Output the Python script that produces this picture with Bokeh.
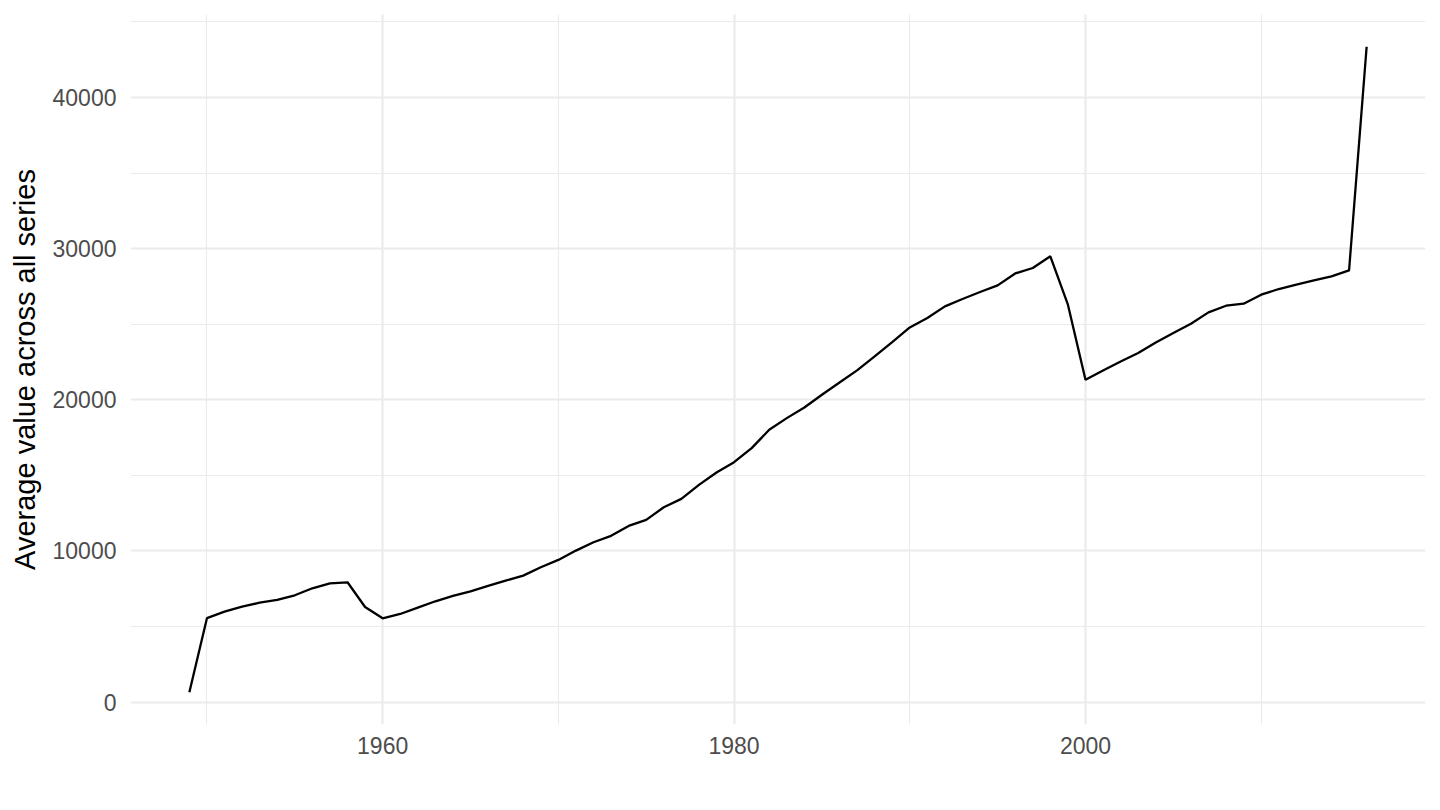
from bokeh.plotting import figure
from bokeh.models import FixedTicker, Range1d
from bokeh.embed import file_html
from bokeh.resources import INLINE

years = list(range(1949, 2017))
avg_value = [
    650, 5550, 5980, 6310, 6576, 6755, 7064, 7528, 7859, 7925,
    6291, 5541, 5828, 6247, 6667, 7020, 7329, 7682, 8035, 8366,
    8918, 9404, 10022, 10574, 11000, 11656, 12053, 12892, 13444, 14371,
    15188, 15872, 16799, 18013, 18786, 19492, 20331, 21148, 21943, 22870,
    23819, 24790, 25408, 26181, 26667, 27130, 27572, 28360, 28720, 29492,
    26291, 21325, 21943, 22539, 23091, 23797, 24415, 25033, 25784, 26225,
    26357, 26954, 27329, 27616, 27902, 28167, 28565, 43358,
]
x_major = [1960, 1980, 2000]
x_minor = [1950, 1970, 1990, 2010]
y_major = [0, 10000, 20000, 30000, 40000]
y_minor = [5000, 15000, 25000, 35000, 45000]
y_title = "Average value across all series"

xmin, xmax = min(years), max(years)
ymin, ymax = min(avg_value), max(avg_value)
xpad = (xmax - xmin) * 0.05
ypad = (ymax - ymin) * 0.05

W, H = 1440, 800
p = figure(width=W, height=H, output_backend="svg", toolbar_location=None,
           x_range=Range1d(xmin - xpad, xmax + xpad),
           y_range=Range1d(ymin - ypad, ymax + ypad),
           min_border_left=130, min_border_right=15, min_border_top=14,
           min_border_bottom=H - 724)
p.outline_line_color = None
p.background_fill_color = "white"
p.border_fill_color = "white"

p.line(years, avg_value, line_color="black", line_width=2.3)

p.xaxis.ticker = FixedTicker(ticks=x_major, minor_ticks=x_minor)
p.yaxis.ticker = FixedTicker(ticks=y_major, minor_ticks=y_minor)

for ax in (p.xaxis, p.yaxis):
    ax.axis_line_color = None
    ax.major_tick_line_color = None
    ax.minor_tick_line_color = None
    ax.major_tick_out = 0
    ax.major_tick_in = 0
    ax.minor_tick_out = 0
    ax.minor_tick_in = 0
    ax.major_label_text_font = "Liberation Sans"
    ax.major_label_text_font_size = "23px"
    ax.major_label_text_color = "#4D4D4D"

p.xaxis.major_label_standoff = 12
p.yaxis.major_label_standoff = 14
p.yaxis.axis_label = y_title
p.yaxis.axis_label_text_font = "Liberation Sans"
p.yaxis.axis_label_text_font_size = "29px"
p.yaxis.axis_label_text_font_style = "normal"
p.yaxis.axis_label_text_color = "black"
p.yaxis.axis_label_standoff = 9

for g in (p.xgrid, p.ygrid):
    g.grid_line_color = "#EBEBEB"
    g.grid_line_width = 2.2
    g.minor_grid_line_color = "#EBEBEB"
    g.minor_grid_line_width = 1.1

open("out.html", "w").write(file_html(p, INLINE))
